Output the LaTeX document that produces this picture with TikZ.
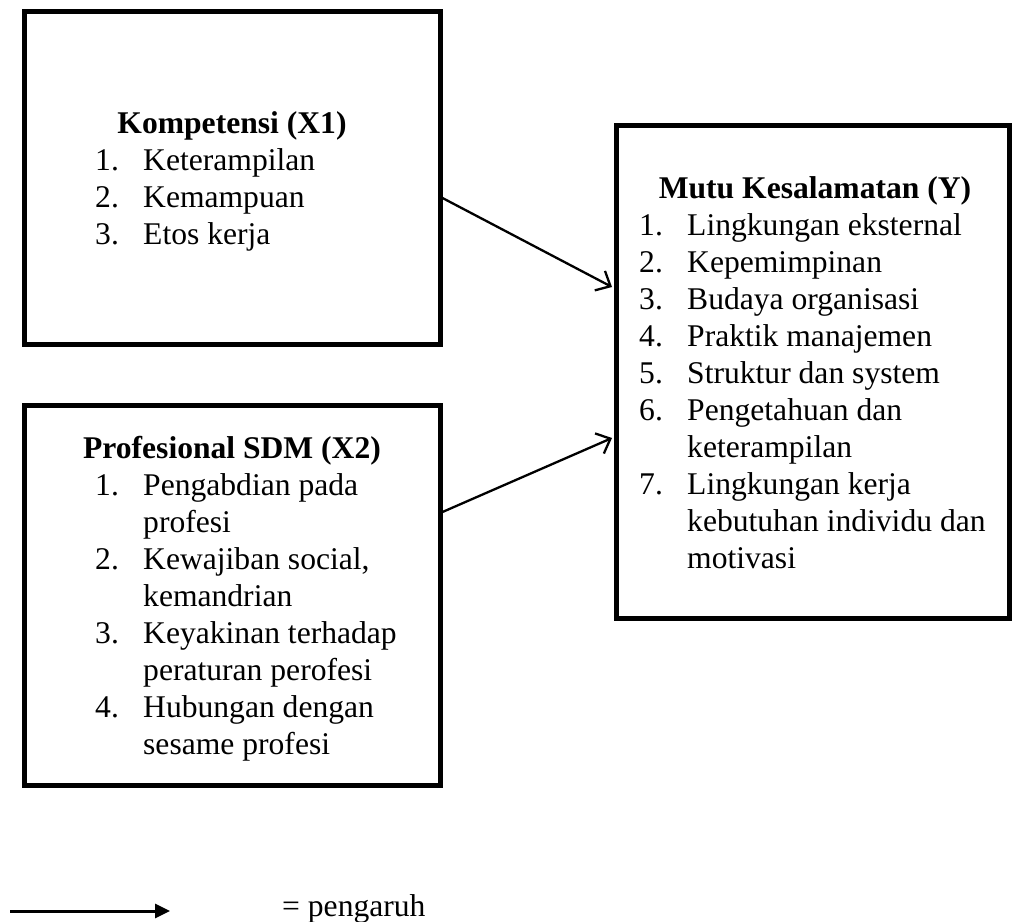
\documentclass[tikz,border=0pt]{standalone}
\usepackage{fontspec}
\setmainfont{Liberation Serif}
\usetikzlibrary{arrows.meta}
\begin{document}
\begin{tikzpicture}[x=1pt,y=-1pt,
  box/.style={draw, line width=5pt, rectangle, inner sep=0pt},
  txt/.style={inner sep=0pt, font=\fontsize{31.6}{37}\selectfont},
  head/.style={txt, anchor=base, font=\fontsize{31.6}{37}\selectfont\bfseries},
  num/.style={txt, anchor=base west},
  item/.style={txt, anchor=base west},
  conn/.style={line width=2.3pt, -{Straight Barb[length=12pt,width=22pt,line width=2.3pt]}}]
\useasboundingbox (0,0) rectangle (1012,921);
% boxes
\node[box, minimum width=416pt, minimum height=333pt] (k) at (232,178) {};
\node[box, minimum width=416pt, minimum height=380.5pt] (p) at (232,595.25) {};
\node[box, minimum width=393pt, minimum height=493.5pt] (y) at (813,371.75) {};
% box 1 text
\node[head] (kh) at (232,133) {Kompetensi (X1)};
\node[num] (k1n) at (95,170) {1.};
\node[item] (k1) at (143,170) {Keterampilan};
\node[num] (k2n) at (95,207) {2.};
\node[item] (k2) at (143,207) {Kemampuan};
\node[num] (k3n) at (95,244) {3.};
\node[item] (k3) at (143,244) {Etos kerja};
% box 2 text
\node[head] (ph) at (232,458) {Profesional SDM (X2)};
\node[num] (p1n) at (95,495) {1.};
\node[item] (p1) at (143,495) {Pengabdian pada};
\node[item] (p1b) at (143,532) {profesi};
\node[num] (p2n) at (95,569) {2.};
\node[item] (p2) at (143,569) {Kewajiban social,};
\node[item] (p2b) at (143,606) {kemandrian};
\node[num] (p3n) at (95,643) {3.};
\node[item] (p3) at (143,643) {Keyakinan terhadap};
\node[item] (p3b) at (143,680) {peraturan perofesi};
\node[num] (p4n) at (95,717) {4.};
\node[item] (p4) at (143,717) {Hubungan dengan};
\node[item] (p4b) at (143,754) {sesame profesi};
% box Y text
\node[head] (yh) at (815,198) {Mutu Kesalamatan (Y)};
\node[num] (y1n) at (639,235) {1.};
\node[item] (y1) at (687,235) {Lingkungan eksternal};
\node[num] (y2n) at (639,272) {2.};
\node[item] (y2) at (687,272) {Kepemimpinan};
\node[num] (y3n) at (639,309) {3.};
\node[item] (y3) at (687,309) {Budaya organisasi};
\node[num] (y4n) at (639,346) {4.};
\node[item] (y4) at (687,346) {Praktik manajemen};
\node[num] (y5n) at (639,383) {5.};
\node[item] (y5) at (687,383) {Struktur dan system};
\node[num] (y6n) at (639,420) {6.};
\node[item] (y6) at (687,420) {Pengetahuan dan};
\node[item] (y6b) at (687,457) {keterampilan};
\node[num] (y7n) at (639,494) {7.};
\node[item] (y7) at (687,494) {Lingkungan kerja};
\node[item] (y7b) at (687,531) {kebutuhan individu dan};
\node[item] (y7c) at (687,568) {motivasi};
% connectors
\draw[conn] ([yshift=-20pt]k.east) -- ([yshift=84.75pt,xshift=-2pt]y.west);
\draw[conn] ([yshift=83.25pt]p.east) -- ([yshift=-66.25pt,xshift=-2pt]y.west);
% legend
\coordinate (la) at (10,911);
\coordinate (lb) at (170,911);
\draw[line width=3pt, -{Triangle[length=15pt,width=14pt]}] (la) -- (lb);
\node[item] (leg) at (282,916) {= pengaruh};
\end{tikzpicture}
\end{document}
